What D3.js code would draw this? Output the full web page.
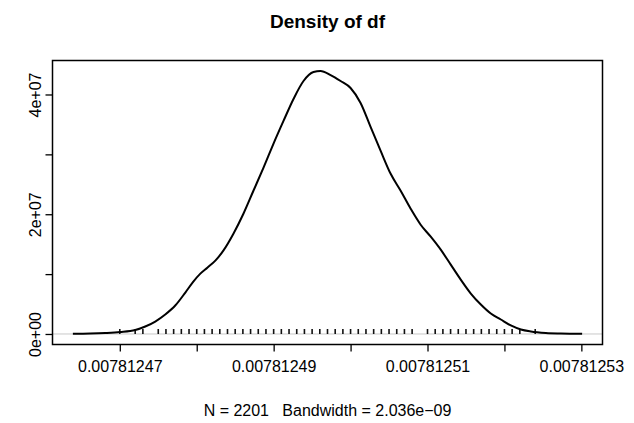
<!DOCTYPE html>
<html>
<head>
<meta charset="utf-8">
<script src="https://cdn.jsdelivr.net/npm/d3@7"></script>
<style>
html,body{margin:0;padding:0;background:#fff;}
svg{display:block;font-family:"Liberation Sans",Arial,Helvetica,sans-serif;}
text{white-space:pre;}
</style>
</head>
<body>
<svg id="chart" width="634" height="423"></svg>
<script>
// ---- data ----
const titleText = "Density of df";
const subText = "N = 2201   Bandwidth = 2.036e\u221209";

const densityX = [
  0.0078124639, 0.00781246615, 0.0078124681, 0.00781247005, 0.00781247201,
  0.00781247331, 0.00781247461, 0.00781247591, 0.00781247721, 0.00781247852,
  0.00781247956, 0.00781248047, 0.00781248138, 0.00781248242, 0.00781248346,
  0.00781248477, 0.00781248607, 0.00781248737, 0.00781248867, 0.00781248997,
  0.00781249128, 0.00781249258, 0.00781249388, 0.00781249518, 0.00781249609,
  0.0078124974, 0.0078124987, 0.0078125, 0.0078125013, 0.0078125026,
  0.00781250391, 0.00781250521, 0.00781250651, 0.00781250781, 0.00781250911,
  0.00781251042, 0.00781251172, 0.00781251302, 0.00781251432, 0.00781251563,
  0.00781251693, 0.00781251823, 0.00781251953, 0.00781252083, 0.00781252214,
  0.00781252344, 0.00781252539, 0.00781252734, 0.0078125301
];
const densityY = [
  3e4, 8e4, 1.7e5, 3.3e5, 6.7e5,
  1.25e6, 2.08e6, 3.25e6, 4.75e6, 6.92e6,
  8.75e6, 1.008e7, 1.108e7, 1.225e7, 1.392e7,
  1.675e7, 2.008e7, 2.392e7, 2.775e7, 3.175e7,
  3.558e7, 3.925e7, 4.225e7, 4.375e7, 4.392e7,
  4.325e7, 4.225e7, 4.108e7, 3.858e7, 3.458e7,
  3.058e7, 2.675e7, 2.392e7, 2.092e7, 1.825e7,
  1.625e7, 1.408e7, 1.158e7, 9.08e6, 6.75e6,
  4.92e6, 3.42e6, 2.42e6, 1.42e6, 7.5e5,
  4.2e5, 1.7e5, 8e4, 2e4
];
const rugValues = [
  0.00781247, 0.007812472, 0.007812473, 0.007812475, 0.007812476,
  0.007812477, 0.007812478, 0.007812479, 0.00781248, 0.007812481,
  0.007812482, 0.007812483, 0.007812484, 0.007812485, 0.007812486,
  0.007812487, 0.007812488, 0.007812489, 0.00781249, 0.007812491,
  0.007812492, 0.007812493, 0.007812494, 0.007812495, 0.007812496,
  0.007812497, 0.007812498, 0.007812499, 0.0078125, 0.007812501,
  0.007812502, 0.007812503, 0.007812504, 0.007812505, 0.007812506,
  0.007812507, 0.007812508, 0.00781251, 0.007812511, 0.007812512,
  0.007812513, 0.007812514, 0.007812515, 0.007812516, 0.007812517,
  0.007812518, 0.007812519, 0.00781252, 0.007812521, 0.007812522,
  0.007812524
];
const xTickValues = [0.00781247, 0.00781248, 0.00781249, 0.0078125, 0.00781251, 0.00781252, 0.00781253];
const xTickLabels = ["0.00781247", "", "0.00781249", "", "0.00781251", "", "0.00781253"];
const yTickValues = [0, 1e7, 2e7, 3e7, 4e7];
const yTickLabels = ["0e+00", "", "2e+07", "", "4e+07"];

// ---- layout ----
const box = {left: 52.5, right: 602.5, top: 60.5, bottom: 344.5};
const svg = d3.select("#chart");
const FONT = "'Liberation Sans',Arial,Helvetica,sans-serif";

const xExt = d3.extent(densityX);
const xPad = (xExt[1] - xExt[0]) * 0.04;
const x = d3.scaleLinear().domain([xExt[0] - xPad, xExt[1] + xPad]).range([box.left, box.right]);
const yMax = d3.max(densityY);
const yPad = yMax * 0.04;
const y = d3.scaleLinear().domain([-yPad, yMax + yPad]).range([box.bottom, box.top]);

const pts = densityX.map((v, i) => [v, densityY[i]]);

// zero line
svg.append("line")
  .attr("x1", box.left).attr("x2", box.right)
  .attr("y1", y(0)).attr("y2", y(0))
  .attr("stroke", "#c8c8c8").attr("stroke-width", 1);

// rug
svg.append("g").selectAll("line").data(rugValues).join("line")
  .attr("x1", d => x(d)).attr("x2", d => x(d))
  .attr("y1", y(0) - 5).attr("y2", y(0))
  .attr("stroke", "#111").attr("stroke-width", 1.6);

// density curve
svg.append("path")
  .datum(pts)
  .attr("fill", "none")
  .attr("stroke", "#000")
  .attr("stroke-width", 2)
  .attr("stroke-linejoin", "round")
  .attr("d", d3.line().x(d => x(d[0])).y(d => y(d[1])).curve(d3.curveMonotoneX));

// box
svg.append("rect")
  .attr("x", box.left).attr("y", box.top)
  .attr("width", box.right - box.left).attr("height", box.bottom - box.top)
  .attr("fill", "none").attr("stroke", "#000").attr("stroke-width", 1.5);

// x axis
const xAxis = d3.axisBottom(x).tickValues(xTickValues)
  .tickFormat((d, i) => xTickLabels[i]).tickSize(7).tickPadding(9);
const gx = svg.append("g").attr("transform", `translate(0,${box.bottom})`).call(xAxis);
gx.select(".domain").remove();
gx.selectAll(".tick line").attr("stroke", "#000").attr("stroke-width", 1.3);
gx.selectAll(".tick text").attr("font-size", 16).attr("fill", "#000")
  .attr("font-family", FONT);

// y axis
const yAxis = d3.axisLeft(y).tickValues(yTickValues)
  .tickFormat((d, i) => yTickLabels[i]).tickSize(7).tickPadding(4);
const gy = svg.append("g").attr("transform", `translate(${box.left},0)`).call(yAxis);
gy.select(".domain").remove();
gy.selectAll(".tick line").attr("stroke", "#000").attr("stroke-width", 1.3);
gy.selectAll(".tick text")
  .attr("font-size", 16).attr("fill", "#000")
  .attr("font-family", FONT)
  .attr("x", null).attr("dy", null)
  .attr("text-anchor", "middle")
  .attr("transform", "translate(-12,0) rotate(-90)");

// title
svg.append("text")
  .attr("x", (box.left + box.right) / 2).attr("y", 28)
  .attr("text-anchor", "middle").attr("font-weight", "bold").attr("font-size", 19)
  .attr("font-family", FONT)
  .text(titleText);

// sub label
svg.append("text")
  .attr("x", (box.left + box.right) / 2).attr("y", 416)
  .attr("text-anchor", "middle").attr("font-size", 16)
  .attr("font-family", FONT)
  .text(subText);
</script>
</body>
</html>
